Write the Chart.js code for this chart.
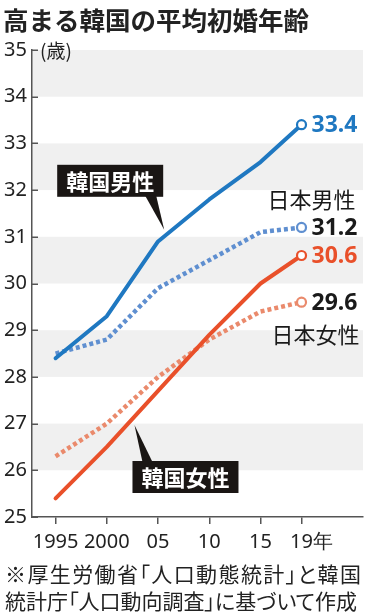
<!DOCTYPE html>
<html><head><meta charset="utf-8">
<script src="https://cdn.jsdelivr.net/npm/chart.js@4"></script>
<style>
html,body{margin:0;padding:0;background:#fff;width:370px;height:613px;overflow:hidden;}
#c{position:absolute;left:0;top:0;}
#title{position:absolute;left:3px;top:1px;font:700 25.5px "Noto Sans CJK JP";color:#222;white-space:nowrap;line-height:36px;}
#note{position:absolute;left:5px;top:560px;font:400 21px "Noto Sans CJK JP";color:#222;line-height:27px;white-space:nowrap;font-feature-settings:"palt";}
#note .l1{letter-spacing:1.4px;}
</style></head><body>
<canvas id="c" width="370" height="613" style="width:370px;height:613px"></canvas>
<div id="title">高まる韓国の平均初婚年齢</div>
<div id="note"><span class="l1">※厚生労働省「人口動態統計」と韓国</span><br><span class="l2">統計庁「人口動向調査」に基づいて作成</span></div>
<script>
const years = [1995, 2000, 2005, 2010, 2015, 2019];
const xTickLabels = ['1995', '2000', '05', '10', '15', '\u300019年'];
const yTicks = [25, 26, 27, 28, 29, 30, 31, 32, 33, 34, 35];
const korMale = [28.4, 29.3, 30.9, 31.8, 32.6, 33.4];
const jpnMale = [28.5, 28.8, 29.9, 30.5, 31.1, 31.2];
const korFemale = [25.4, 26.5, 27.7, 28.9, 30.0, 30.6];
const jpnFemale = [26.3, 27.0, 28.0, 28.8, 29.4, 29.6];
const seriesNames = ['韓国男性', '韓国女性', '日本男性', '日本女性'];

const C_KM = '#1f78c1', C_JM = '#5f8fd0', C_KF = '#e9502a', C_JF = '#ea8a6c';
const toXY = arr => arr.map((v, i) => ({x: years[i], y: v}));
const lastR = ctx => ctx.dataIndex === years.length - 1 ? 4.5 : 0;

function mk(label, arr, color, dashed) {
  return {
    label, data: toXY(arr), borderColor: color, borderWidth: dashed ? 4.5 : 4,
    borderDash: dashed ? [4, 3] : [], borderCapStyle: dashed ? 'butt' : 'round',
    borderJoinStyle: 'round', tension: 0, fill: false,
    pointRadius: lastR, pointBackgroundColor: '#fff', pointBorderColor: color,
    pointBorderWidth: 2.2, pointHoverRadius: lastR
  };
}

const bandsPlugin = {
  id: 'bands',
  beforeDraw(chart) {
    const {ctx, chartArea: a, scales: {y}} = chart;
    ctx.save();
    ctx.fillStyle = '#f0f0f0';
    for (let i = 1; i < yTicks.length - 1; i += 2) {
      const t = y.getPixelForValue(yTicks[i + 1]), b = y.getPixelForValue(yTicks[i]);
      ctx.fillRect(a.left, t, a.right - a.left, b - t);
    }
    ctx.restore();
  }
};

const textPlugin = {
  id: 'texts',
  afterDraw(chart) {
    const {ctx, chartArea: a, scales: {x, y}} = chart;
    ctx.save();
    ctx.strokeStyle = '#555'; ctx.lineWidth = 1.5;
    yTicks.forEach(v => {
      const py = Math.round(y.getPixelForValue(v)) + 0.25;
      ctx.beginPath(); ctx.moveTo(a.left, py); ctx.lineTo(a.left + 6, py); ctx.stroke();
    });
    ctx.fillStyle = '#222'; ctx.textBaseline = 'middle'; ctx.textAlign = 'left';
    ctx.font = '19px "Noto Sans CJK JP"';
    ctx.fillText('(歳)', a.left + 8, y.getPixelForValue(35) + 1);

    const last = years.length - 1;
    const lx = x.getPixelForValue(years[last]) + 10;
    ctx.font = 'bold 23px "Noto Sans"';
    const ends = [[korMale, C_KM], [jpnMale, '#1a1a1a'], [korFemale, C_KF], [jpnFemale, '#1a1a1a']];
    ends.forEach(([arr, col]) => {
      ctx.fillStyle = col;
      ctx.fillText(arr[last].toFixed(1), lx, y.getPixelForValue(arr[last]) + 1);
    });
    ctx.fillStyle = '#1a1a1a';
    ctx.font = '22px "Noto Sans CJK JP"';
    ctx.textAlign = 'right';
    ctx.fillText(seriesNames[2], lx + 44, y.getPixelForValue(jpnMale[last]) - 28);
    ctx.fillText(seriesNames[3], lx + 48, y.getPixelForValue(jpnFemale[last]) + 32);

    function callout(text, tipX, tipY, boxL, boxT, tri) {
      const w = 106, h = 32;
      ctx.fillStyle = '#1a1614';
      ctx.fillRect(boxL, boxT, w, h);
      ctx.beginPath(); ctx.moveTo(tri[0][0], tri[0][1]); ctx.lineTo(tri[1][0], tri[1][1]);
      ctx.lineTo(tipX, tipY); ctx.closePath(); ctx.fill();
      ctx.fillStyle = '#fff'; ctx.font = 'bold 22px "Noto Sans CJK JP"';
      ctx.textAlign = 'center'; ctx.textBaseline = 'middle';
      ctx.fillText(text, boxL + w / 2, boxT + h / 2 + 1);
    }
    let tx = x.getPixelForValue(2005.6), ty = y.getPixelForValue(31.15);
    callout(seriesNames[0], tx, ty, tx - 107, ty - 65, [[tx - 19, ty - 34], [tx - 8, ty - 34]]);
    tx = x.getPixelForValue(2002.7); ty = y.getPixelForValue(26.97);
    callout(seriesNames[1], tx, ty, tx - 2, ty + 36, [[tx + 8, ty + 37], [tx + 18, ty + 37]]);
    ctx.restore();
  }
};

new Chart(document.getElementById('c'), {
  type: 'line',
  data: {
    datasets: [
      mk(seriesNames[0], korMale, C_KM, false),
      mk(seriesNames[1], korFemale, C_KF, false),
      mk(seriesNames[2], jpnMale, C_JM, true),
      mk(seriesNames[3], jpnFemale, C_JF, true)
    ]
  },
  options: {
    responsive: false, animation: false, events: [],
    layout: {padding: {left: 0, right: 7, top: 50, bottom: 61}},
    plugins: {legend: {display: false}, tooltip: {enabled: false}},
    scales: {
      x: {
        type: 'linear', min: 1992.7, max: 2025,
        afterBuildTicks: s => { s.ticks = years.map(v => ({value: v})); },
        afterFit: s => { s.height = 35; },
        ticks: {callback: (v, i) => xTickLabels[i], font: {family: 'Noto Sans', size: 20}, color: '#222',
                padding: 6, maxRotation: 0, autoSkip: false},
        grid: {drawOnChartArea: false, drawTicks: true, tickLength: 7, color: '#555', lineWidth: 1.5},
        border: {color: '#555', width: 1.5}
      },
      y: {
        min: 25, max: 35,
        afterBuildTicks: s => { s.ticks = yTicks.map(v => ({value: v})); },
        afterFit: s => { s.width = 32; },
        ticks: {font: {family: 'Noto Sans', size: 20}, color: '#222', padding: 5},
        grid: {drawOnChartArea: false, drawTicks: false},
        border: {color: '#555', width: 1.5}
      }
    }
  },
  plugins: [bandsPlugin, textPlugin]
});
</script>
</body></html>
